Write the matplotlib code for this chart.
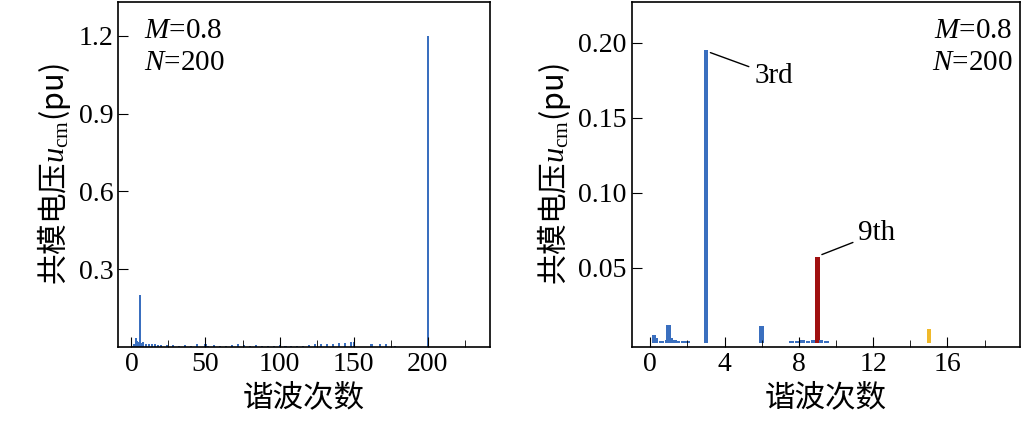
import matplotlib
matplotlib.use("Agg")
import matplotlib.pyplot as plt
from matplotlib.ticker import MultipleLocator

plt.rcParams['font.family'] = ['Liberation Serif', 'Noto Sans CJK SC']
plt.rcParams['mathtext.fontset'] = 'custom'
plt.rcParams['mathtext.it'] = 'Liberation Serif:italic'
plt.rcParams['mathtext.rm'] = 'Liberation Serif'

# Left panel: harmonic order vs common-mode voltage (pu)
left_orders = [1, 2, 3, 4, 5, 6, 7, 8, 10, 12, 14, 16, 18, 20, 24, 28, 32, 36, 40, 44, 50, 52, 56,
               60, 64, 68, 72, 76, 80, 84, 88, 92, 96, 100, 104, 108, 112, 116, 120, 124, 128,
               132, 136, 140, 144, 148, 150, 162, 168, 172, 178, 200]
left_values = [0.005, 0.012, 0.035, 0.025, 0.02, 0.2, 0.015, 0.02, 0.012, 0.012, 0.01, 0.01, 0.008,
               0.008, 0.008, 0.007, 0.006, 0.008, 0.005, 0.01, 0.01, 0.006, 0.007,
               0.005, 0.006, 0.008, 0.01, 0.007, 0.006, 0.008, 0.004, 0.004, 0.006, 0.008, 0.006,
               0.006, 0.005, 0.006, 0.008, 0.01, 0.01, 0.012, 0.012, 0.014, 0.016, 0.018, 0.02,
               0.012, 0.01, 0.012, 0.006, 1.2]

# Right panel
right_orders = [0.2, 0.3, 0.6, 0.9, 1.0, 1.1, 1.3, 1.5, 1.8, 2.0, 3.0, 6.0,
                7.6, 7.9, 8.2, 8.5, 8.8, 9.0, 9.2, 9.5, 15.0]
right_values = [0.005, 0.003, 0.001, 0.002, 0.012, 0.003, 0.002, 0.001, 0.001, 0.001, 0.195, 0.011,
                0.001, 0.001, 0.002, 0.001, 0.002, 0.057, 0.002, 0.001, 0.009]
right_colors = ['#3a6fbf'] * 17 + ['#a01010', '#3a6fbf', '#3a6fbf', '#f0b92a']

blue = '#3a6fbf'
fig = plt.figure(figsize=(10.22, 4.36), dpi=100)
ax1 = fig.add_axes([0.1155, 0.204, 0.364, 0.791])
ax2 = fig.add_axes([0.618, 0.204, 0.38, 0.791])

ax1.bar(left_orders, left_values, width=1.4, color=blue)
ax1.set_xlim(-9, 242)
ax1.set_ylim(0, 1.33)
ax1.xaxis.set_major_locator(MultipleLocator(50))
ax1.xaxis.set_minor_locator(MultipleLocator(25))
ax1.set_yticks([0.3, 0.6, 0.9, 1.2])
ax1.set_yticklabels(['0.3', '0.6', '0.9', '1.2'])

ax2.bar(right_orders, right_values, width=0.25, color=right_colors)
ax2.set_xlim(-1, 19.9)
ax2.set_ylim(-0.003, 0.227)
ax2.xaxis.set_major_locator(MultipleLocator(4))
ax2.xaxis.set_minor_locator(MultipleLocator(2))
ax2.set_yticks([0.05, 0.10, 0.15, 0.20])
ax2.set_yticklabels(['0.05', '0.10', '0.15', '0.20'])

for ax in (ax1, ax2):
    ax.tick_params(which='both', direction='in', labelsize=20, top=False, right=False)
    ax.tick_params(which='major', length=7)
    ax.tick_params(which='minor', length=5)
    for s in ax.spines.values():
        s.set_linewidth(1.2)
    ax.set_xlabel('谐波次数', fontsize=22, family=['Noto Sans CJK SC'], fontweight='medium')
    ax.set_ylabel('共模电压$u_{\\mathrm{cm}}$(pu)', fontsize=22,
                  family=['Noto Sans CJK SC', 'Liberation Serif'], fontweight='medium')

ax1.text(0.07, 0.955, '$M$=0.8\n$N$=200', transform=ax1.transAxes, fontsize=21,
         va='top', ha='left', linespacing=1.3)
ax2.text(0.98, 0.955, '$M$=0.8\n$N$=200', transform=ax2.transAxes, fontsize=21,
         va='top', ha='right', linespacing=1.3)

ax2.annotate('3rd', xy=(3.1, 0.194), xytext=(5.6, 0.178), fontsize=21,
             arrowprops=dict(arrowstyle='-', color='k', lw=1), va='center')
ax2.annotate('9th', xy=(9.1, 0.058), xytext=(11.2, 0.073), fontsize=21,
             arrowprops=dict(arrowstyle='-', color='k', lw=1), va='center')

fig.savefig('out.png', dpi=100)
